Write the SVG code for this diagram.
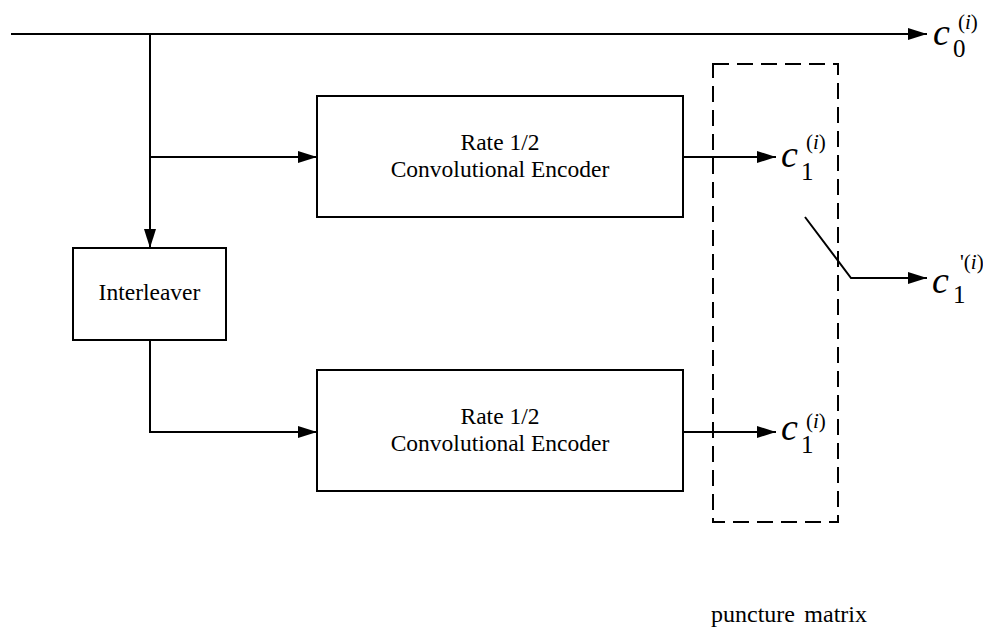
<svg xmlns="http://www.w3.org/2000/svg" width="983" height="628" viewBox="0 0 983 628">
<style>
.box{fill:none;stroke:#000;stroke-width:2}
.ln{fill:none;stroke:#000;stroke-width:2}
text{font-family:"Liberation Serif","Times New Roman",serif;fill:#000}
.t{font-size:23.5px;text-anchor:middle}
.p{font-size:24px;text-anchor:end}
.c{font-style:italic;font-size:38px}
.sub{font-size:25px}
.sup{font-size:21px}
.supi{font-style:italic}
</style>
<defs>
<marker id="ahb" markerWidth="19" markerHeight="12" refX="19" refY="6" orient="auto" markerUnits="userSpaceOnUse" viewBox="0 0 19 12">
<path d="M0,0 L19,6 L0,12 z" fill="#000"/>
</marker>
</defs>
<g id="connectors">
<line class="ln" x1="11" y1="34" x2="927" y2="34" marker-end="url(#ahb)"/>
<line class="ln" x1="150" y1="34" x2="150" y2="248" marker-end="url(#ahb)"/>
<line class="ln" x1="150" y1="157" x2="317" y2="157" marker-end="url(#ahb)"/>
<polyline class="ln" points="150,340 150,432 317,432" marker-end="url(#ahb)"/>
<line class="ln" x1="683" y1="157" x2="776" y2="157" marker-end="url(#ahb)"/>
<line class="ln" x1="683" y1="432" x2="776" y2="432" marker-end="url(#ahb)"/>
<polyline class="ln" points="805,217 851,278 927,278" marker-end="url(#ahb)"/>
</g>
<g id="puncture">
<rect x="713" y="64" width="125" height="458" fill="none" stroke="#000" stroke-width="2" stroke-dasharray="16,8"/>
<text class="p" x="795" y="622">puncture</text>
<text class="p" x="867" y="622">matrix</text>
</g>
<g id="encoder1">
<rect class="box" x="317" y="96" width="366" height="121"/>
<text class="t" x="500" y="150">Rate 1/2</text>
<text class="t" x="500" y="177">Convolutional Encoder</text>
</g>
<g id="encoder2">
<rect class="box" x="317" y="370" width="366" height="121"/>
<text class="t" x="500" y="424">Rate 1/2</text>
<text class="t" x="500" y="451">Convolutional Encoder</text>
</g>
<g id="interleaver">
<rect class="box" x="73" y="248" width="153" height="92"/>
<text class="t" x="149.5" y="300">Interleaver</text>
</g>
<g id="label-c0">
<text class="c" x="933" y="45">c</text>
<text class="sub" x="953" y="57">0</text>
<text class="sup" x="958" y="29">(<tspan class="supi">i</tspan>)</text>
</g>
<g id="label-c1a">
<text class="c" x="781" y="167">c</text>
<text class="sub" x="801" y="180">1</text>
<text class="sup" x="806" y="149">(<tspan class="supi">i</tspan>)</text>
</g>
<g id="label-c1b">
<text class="c" x="781" y="440">c</text>
<text class="sub" x="801" y="453">1</text>
<text class="sup" x="806" y="428">(<tspan class="supi">i</tspan>)</text>
</g>
<g id="label-c1p">
<text class="c" x="932" y="293">c</text>
<text class="sub" x="953" y="303">1</text>
<text class="sup" x="960" y="269" font-size="20">'(<tspan class="supi">i</tspan>)</text>
</g>
</svg>
